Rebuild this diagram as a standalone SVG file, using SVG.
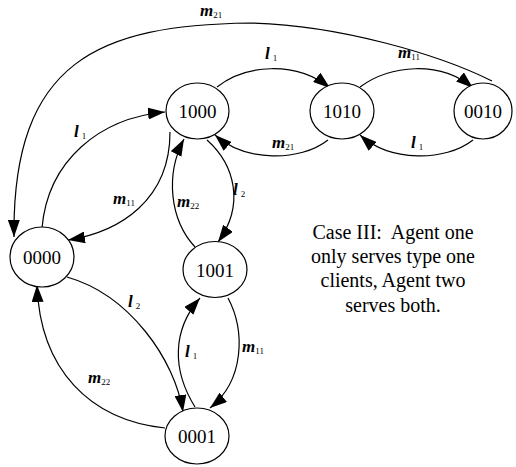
<svg xmlns="http://www.w3.org/2000/svg" width="516" height="467" viewBox="0 0 516 467">
<style>
.node ellipse{fill:#fff;stroke:#000;stroke-width:1.2}
.node text{font-family:"Liberation Serif","Times New Roman",serif;font-size:19px;text-anchor:middle;fill:#000}
.edge{fill:none;stroke:#000;stroke-width:1.2;marker-end:url(#ah)}
.plain{fill:none;stroke:#000;stroke-width:1.2}
.lab{font-family:"Liberation Serif","Times New Roman",serif;font-size:17px;font-weight:bold;font-style:italic;fill:#000}
.sub{font-size:9px;font-weight:normal;font-style:normal}
.cap{font-family:"Liberation Serif","Times New Roman",serif;font-size:20px;text-anchor:middle;fill:#000;white-space:pre}
</style>
<defs>
<marker id="ah" markerUnits="userSpaceOnUse" markerWidth="18" markerHeight="12" refX="17" refY="6" orient="auto">
<path d="M0,0 L17,6 L0,12 z" fill="#000"/>
</marker>
</defs>
<g id="connectors">
<path class="edge" d="M217,87 C245,65 295,60 330,88"/>
<path class="edge" d="M360,87 C390,65 440,60 473,88"/>
<path class="edge" d="M328,140 C300,162 245,162 215,135"/>
<path class="edge" d="M473,140 C445,162 390,162 360,135"/>
<path class="edge" d="M492,81 C440,55 340,25 250,23 C100,25 12,60 14,237"/>
<path class="edge" d="M42,228 C48,160 100,118 165,112"/>
<path class="edge" d="M170,132 C170,200 120,232 68,240"/>
<path class="edge" d="M195,247 C170,220 165,175 184,139"/>
<path class="edge" d="M207,140 C235,165 245,205 218,242"/>
<path class="edge" d="M67,277 C130,295 175,360 183,412"/>
<path class="edge" d="M165,428 C90,420 40,370 37,285"/>
<path class="edge" d="M195,407 C172,370 172,330 200,298"/>
<path class="edge" d="M228,298 C245,330 245,380 210,408"/>
</g>
<g id="labels">
<text class="lab" x="200" y="16">m<tspan class="sub" dy="2">21</tspan></text>
<text class="lab" x="265" y="59">l<tspan class="sub" dx="3" dy="2">1</tspan></text>
<text class="lab" x="398" y="58">m<tspan class="sub" dy="2">11</tspan></text>
<text class="lab" x="74" y="137">l<tspan class="sub" dx="3" dy="2">1</tspan></text>
<text class="lab" x="272" y="148">m<tspan class="sub" dy="2">21</tspan></text>
<text class="lab" x="411" y="148">l<tspan class="sub" dx="3" dy="2">1</tspan></text>
<text class="lab" x="113" y="204">m<tspan class="sub" dy="2">11</tspan></text>
<text class="lab" x="177" y="207">m<tspan class="sub" dy="2">22</tspan></text>
<text class="lab" x="233" y="195">l<tspan class="sub" dx="3" dy="2">2</tspan></text>
<text class="lab" x="128" y="307">l<tspan class="sub" dx="3" dy="2">2</tspan></text>
<text class="lab" x="185" y="357">l<tspan class="sub" dx="3" dy="2">1</tspan></text>
<text class="lab" x="242" y="352">m<tspan class="sub" dy="2">11</tspan></text>
<text class="lab" x="88" y="383">m<tspan class="sub" dy="2">22</tspan></text>
</g>
<g id="n1000" class="node"><ellipse cx="197.5" cy="111" rx="31.5" ry="28"/><text x="197.5" y="118">1000</text></g>
<g id="n1010" class="node"><ellipse cx="342" cy="111" rx="32" ry="28"/><text x="342" y="118">1010</text></g>
<g id="n0010" class="node"><ellipse cx="483" cy="111" rx="29" ry="28"/><text x="483" y="118">0010</text></g>
<g id="n0000" class="node"><ellipse cx="42" cy="257" rx="32" ry="30"/><text x="42" y="264">0000</text></g>
<g id="n1001" class="node"><ellipse cx="215" cy="269.5" rx="32" ry="28"/><text x="215" y="276.5">1001</text></g>
<g id="n0001" class="node"><ellipse cx="197" cy="436" rx="32" ry="28"/><text x="197" y="443">0001</text></g>
<g id="caption">
<text class="cap" x="393" y="239">Case III:  Agent one</text>
<text class="cap" x="393" y="263">only serves type one</text>
<text class="cap" x="393" y="287">clients, Agent two</text>
<text class="cap" x="393" y="312">serves both.</text>
</g>
</svg>
